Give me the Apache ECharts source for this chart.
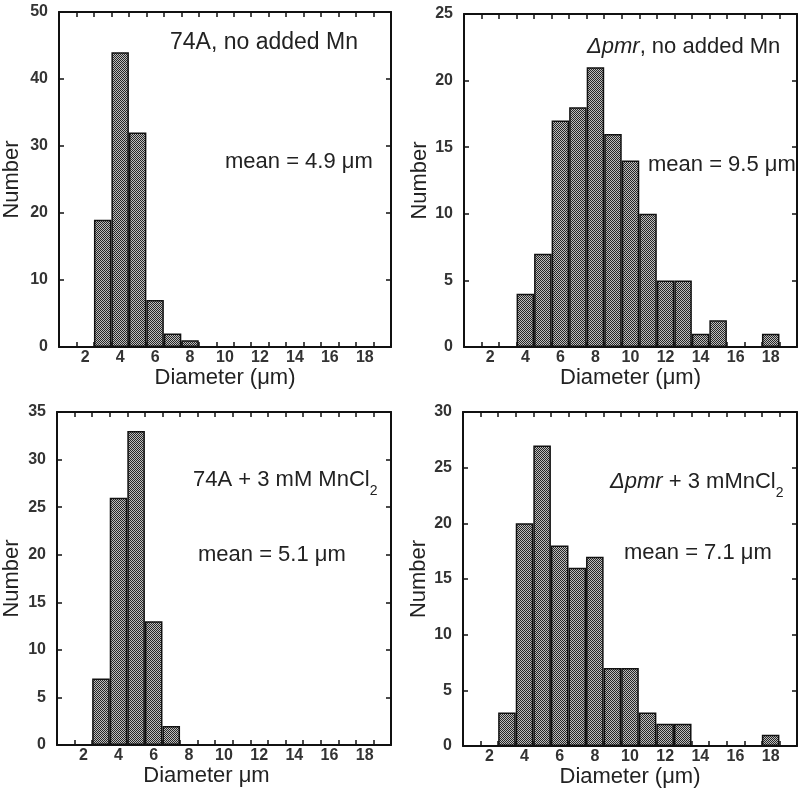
<!DOCTYPE html>
<html><head><meta charset="utf-8">
<script src="https://cdn.jsdelivr.net/npm/echarts@6/dist/echarts.min.js"></script>
<style>html,body{margin:0;padding:0;background:#fff}#c{width:800px;height:789px}</style>
</head><body><div id="c"></div>
<script>
// ---- data ----
const diameterBins = ['1','2','3','4','5','6','7','8','9','10','11','12','13','14','15','16','17','18','19'];
const count74A      = [0,0,19,44,32,7,2,1,0,0,0,0,0,0,0,0,0,0,0];
const countPmr      = [0,0,0,4,7,17,18,21,16,14,10,5,5,1,2,0,0,1,0];
const count74AMn    = [0,0,7,26,33,13,2,0,0,0,0,0,0,0,0,0,0,0,0];
const countPmrMn    = [0,0,3,20,27,18,16,17,7,7,3,2,2,0,0,0,0,1,0];
const yMaxValues    = [50,25,35,30];
const yStepValues   = [10,5,5,5];
const xAxisNames    = ['Diameter (μm)','Diameter (μm)','Diameter μm','Diameter (μm)'];
const yAxisName     = 'Number';
const panelTitles   = ['74A, no added Mn','{i|Δpmr}, no added Mn','74A + 3 mM MnCl{s|2}','{i|Δpmr} + 3 mMnCl{s|2}'];
const panelMeans    = ['mean = 4.9 μm','mean = 9.5 μm','mean = 5.1 μm','mean = 7.1 μm'];
const panelCounts   = [count74A, countPmr, count74AMn, countPmrMn];

// ---- layout ----
const FONT = 'Liberation Sans, Arial, Helvetica, sans-serif';
const grids = [
  {left:57, top:12, width:334, height:335},
  {left:464, top:14, width:333, height:333},
  {left:57, top:412, width:334, height:333},
  {left:463, top:412, width:334, height:334}
];
const yNameGaps = [36, 31, 34, 33];
const xNamePad = [[0,0,0,0],[0,0,0,0],[0,35,0,0],[0,0,0,0]];
const titlePos = [[170,43],[587,47],[193,480],[610,482]];
const titleSize = [23,22,22,22];
const meanPos  = [[225,162],[648,165],[198,555],[624,553]];

const pc = document.createElement('canvas');
pc.width = 2; pc.height = 2;
const g = pc.getContext('2d');
g.fillStyle = '#bdbdbd'; g.fillRect(0,0,2,2);
g.fillStyle = '#262626'; g.fillRect(0,0,1,1); g.fillRect(1,1,1,1);
const pattern = {image: pc, repeat: 'repeat'};

const lineCol = '#111';
const xAxes = [], yAxes = [], series = [], graphics = [];
grids.forEach((gr, i) => {
  const mk = (extra) => Object.assign({show:true, inside:true, length:5, lineStyle:{color:lineCol, width:1.5}}, extra || {});
  const line = {show:true, onZero:false, lineStyle:{color:lineCol, width:2}};
  xAxes.push({
    type:'category', gridIndex:i, data:diameterBins, boundaryGap:true, position:'bottom',
    axisLine:line,
    axisTick:mk({interval:0}),
    axisLabel:{interval:(idx, val) => (+val) % 2 === 0, color:'#333', fontSize:16, fontWeight:'bold', fontFamily:FONT, margin:3},
    name:xAxisNames[i], nameLocation:'middle', nameGap:16,
    nameTextStyle:{fontSize:22, color:'#222', fontFamily:FONT, padding:xNamePad[i]},
    splitLine:{show:false}
  });
  xAxes.push({
    type:'category', gridIndex:i, data:diameterBins, boundaryGap:true, position:'top',
    axisLine:line,
    axisTick:mk({interval:0}),
    axisLabel:{show:false}, splitLine:{show:false}
  });
  yAxes.push({
    type:'value', gridIndex:i, min:0, max:yMaxValues[i], interval:yStepValues[i], position:'left',
    axisLine:line,
    axisTick:mk(),
    axisLabel:{color:'#333', fontSize:16, fontWeight:'bold', fontFamily:FONT, margin:11, padding:[0,0,5,0]},
    splitLine:{show:false},
    name:yAxisName, nameLocation:'middle', nameGap:yNameGaps[i],
    nameTextStyle:{fontSize:22, color:'#222', fontFamily:FONT}
  });
  yAxes.push({
    type:'value', gridIndex:i, min:0, max:yMaxValues[i], interval:yStepValues[i], position:'right',
    axisLine:line,
    axisTick:mk(), axisLabel:{show:false}, splitLine:{show:false}
  });
  series.push({
    type:'bar', xAxisIndex:2*i, yAxisIndex:2*i,
    data:panelCounts[i].map(v => v === 0 ? null : v),
    barWidth:'100%', barCategoryGap:'0%',
    itemStyle:{color:pattern, borderColor:lineCol, borderWidth:1.5},
    silent:true
  });
  const rich = {
    i:{fontStyle:'italic', fontSize:titleSize[i], fontFamily:FONT, lineHeight:36, fill:'#222'},
    s:{fontSize:14, fontFamily:FONT, lineHeight:14, verticalAlign:'bottom', fill:'#222'}
  };
  graphics.push({
    type:'text', x:titlePos[i][0], y:titlePos[i][1], silent:true,
    style:{text:panelTitles[i], fontSize:titleSize[i], fontFamily:FONT, fill:'#222', lineHeight:36,
           align:'left', verticalAlign:'middle', rich:rich}
  });
  graphics.push({
    type:'text', x:meanPos[i][0], y:meanPos[i][1], silent:true,
    style:{text:panelMeans[i], fontSize:22, fontFamily:FONT, fill:'#222',
           align:'left', verticalAlign:'middle'}
  });
});

const chart = echarts.init(document.getElementById('c'), null, {renderer:'canvas'});
chart.setOption({
  animation:false,
  backgroundColor:'#fff',
  grid:grids,
  xAxis:xAxes,
  yAxis:yAxes,
  series:series,
  graphic:graphics
});
</script>
</body></html>
